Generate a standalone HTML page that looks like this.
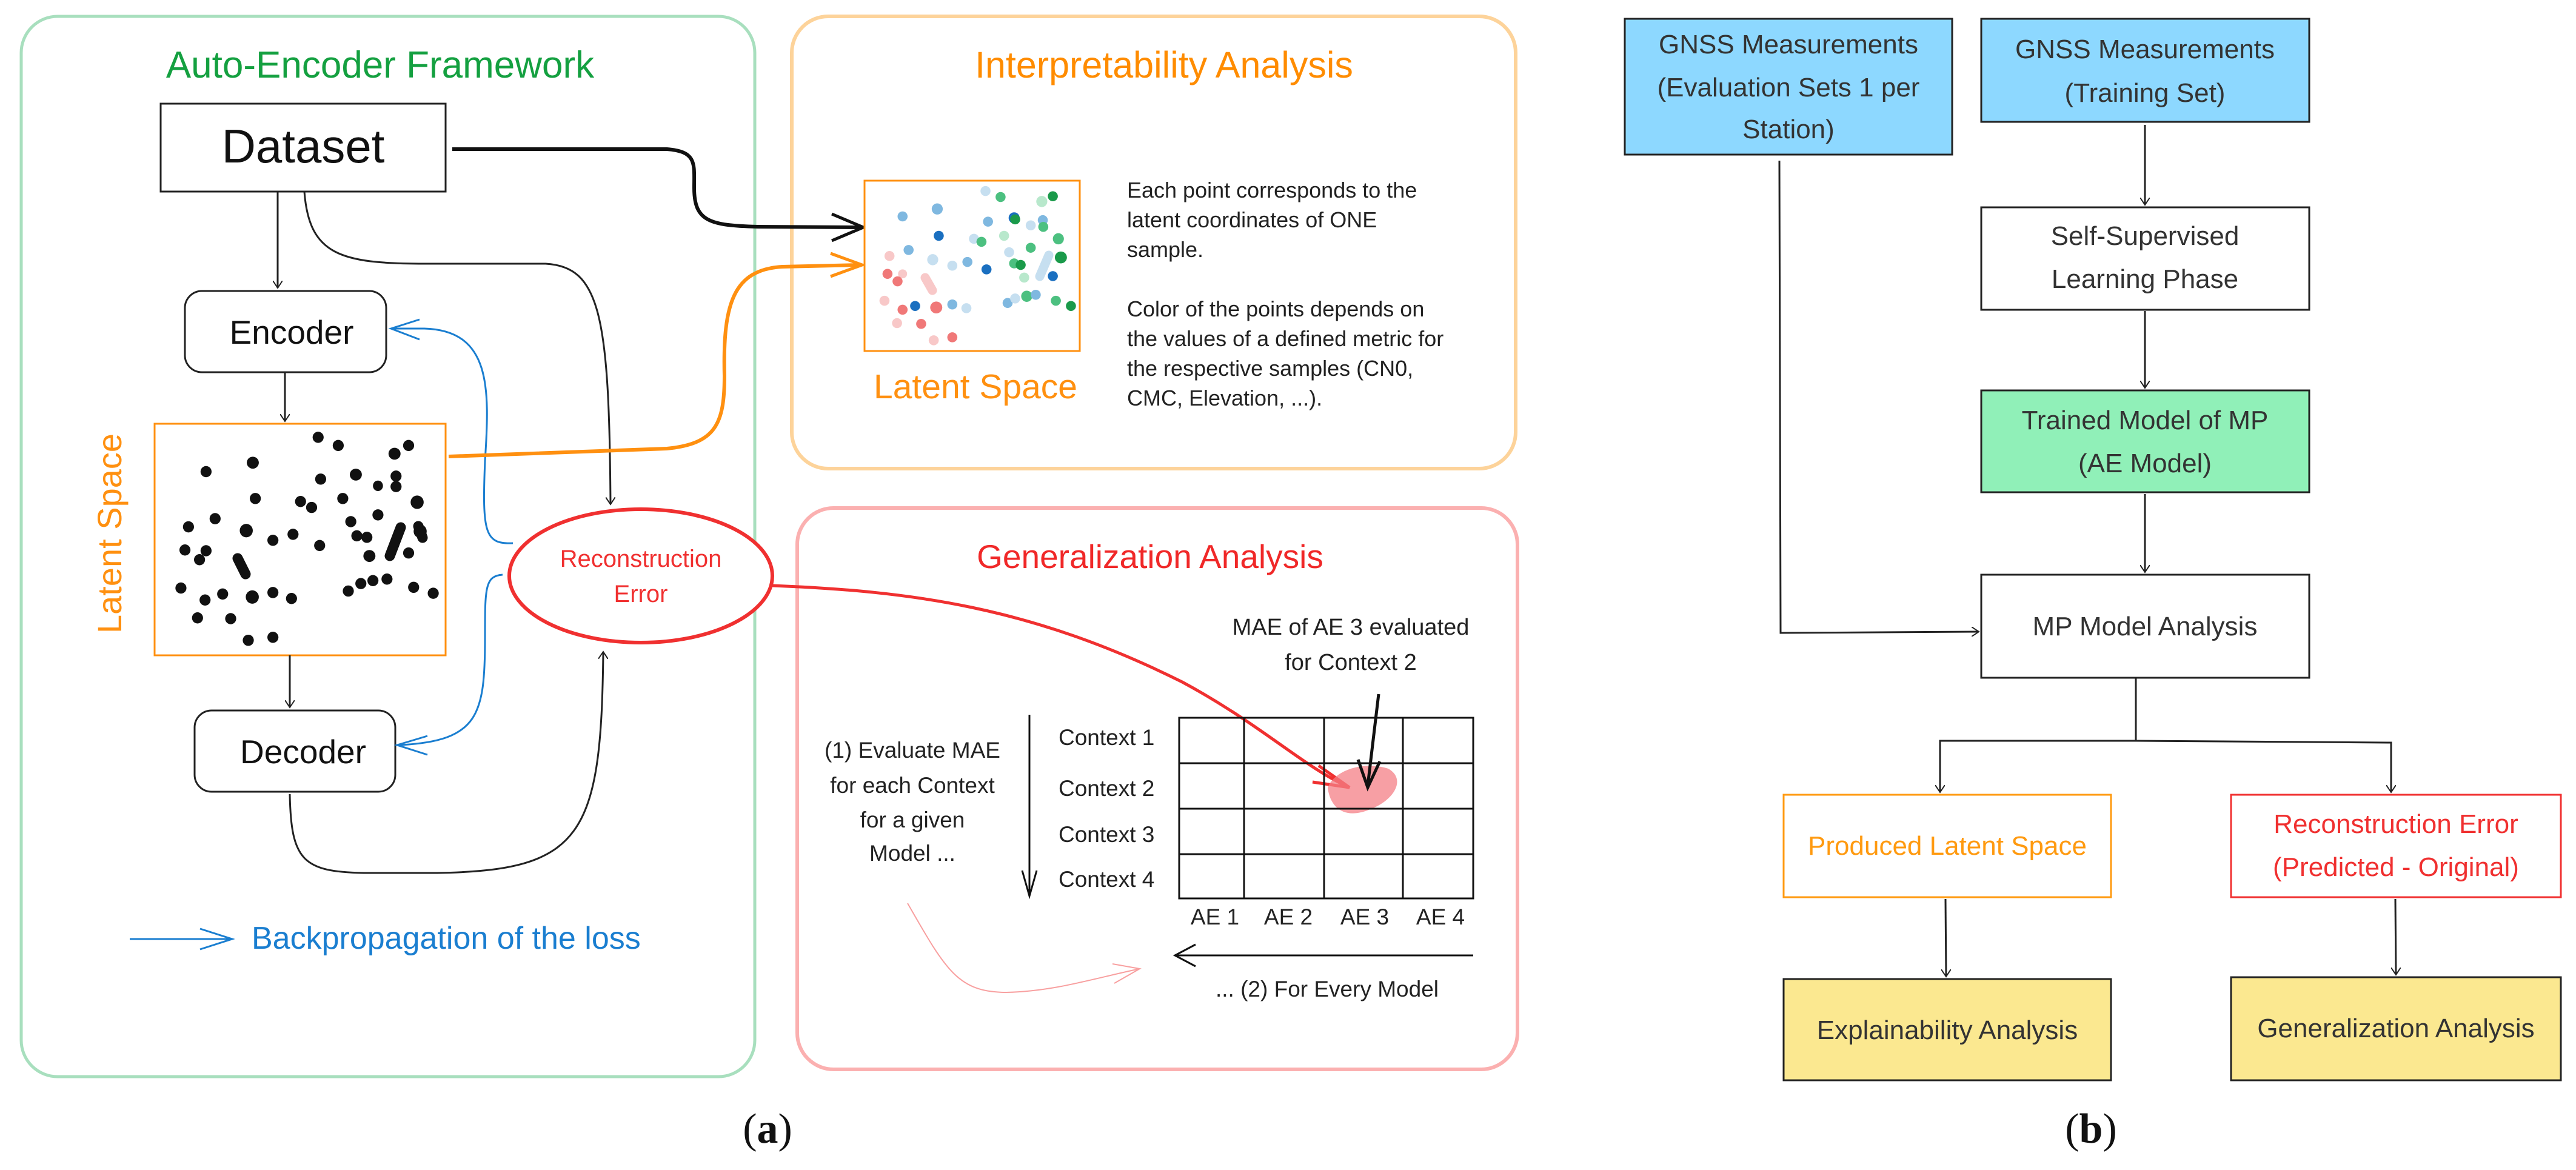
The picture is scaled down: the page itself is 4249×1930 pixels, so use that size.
<!DOCTYPE html>
<html><head><meta charset="utf-8"><style>
html,body{margin:0;padding:0;background:#fff;}
svg{display:block;}
text{font-family:"Liberation Sans",sans-serif;}
</style></head><body>
<svg width="4249" height="1930" viewBox="0 0 4249 1930" xmlns="http://www.w3.org/2000/svg">
<defs>
<marker id="ab" markerWidth="14" markerHeight="16" refX="12" refY="8" orient="auto" markerUnits="userSpaceOnUse" viewBox="0 0 14 16"><path d="M0,0 L12,8 L0,16" fill="none" stroke="#222" stroke-width="2"/></marker>
</defs>
<!-- Panel a frames -->
<rect x="35" y="27" width="1210" height="1749" rx="60" fill="none" stroke="#a8dfbe" stroke-width="5"/>
<rect x="1306" y="27" width="1194" height="746" rx="60" fill="none" stroke="#fdd39a" stroke-width="6"/>
<rect x="1315" y="838" width="1188" height="926" rx="60" fill="none" stroke="#fbb0b0" stroke-width="6"/>

<text x="627" y="128" font-size="62" fill="#14a040" text-anchor="middle">Auto-Encoder Framework</text>
<text x="1920" y="128" font-size="61" fill="#ff8c00" text-anchor="middle">Interpretability Analysis</text>
<text x="1897" y="937" font-size="55" fill="#f02828" text-anchor="middle">Generalization Analysis</text>

<!-- Dataset -->
<rect x="265" y="171" width="470" height="145" fill="#fff" stroke="#222" stroke-width="3"/>
<text x="500" y="268" font-size="78" fill="#111" text-anchor="middle">Dataset</text>
<rect x="305" y="480" width="332" height="134" rx="28" fill="#fff" stroke="#222" stroke-width="3"/>
<text x="481" y="567" font-size="55" fill="#111" text-anchor="middle">Encoder</text>
<rect x="321" y="1172" width="331" height="134" rx="28" fill="#fff" stroke="#222" stroke-width="3"/>
<text x="500" y="1259" font-size="55" fill="#111" text-anchor="middle">Decoder</text>
<rect x="255" y="699" width="480" height="382" fill="#fff" stroke="#ff9010" stroke-width="3"/>
<text transform="translate(200,880) rotate(-90)" font-size="56" fill="#ff9010" text-anchor="middle">Latent Space</text>

<g transform="scale(0.829,1.231)" fill="#111">
<ellipse rx="11" ry="7.5" cx="410" cy="632"/><ellipse rx="12" ry="8" cx="503" cy="620"/><ellipse rx="11" ry="7.5" cx="633" cy="586"/><ellipse rx="11" ry="7.5" cx="673" cy="597"/><ellipse rx="12" ry="8" cx="785" cy="608"/><ellipse rx="11" ry="7.5" cx="813" cy="597"/><ellipse rx="11" ry="7.5" cx="508" cy="668"/><ellipse rx="11" ry="7.5" cx="638" cy="642"/><ellipse rx="12" ry="8" cx="708" cy="636"/><ellipse rx="10" ry="7" cx="752" cy="651"/><ellipse rx="11" ry="7.5" cx="788" cy="638"/><ellipse rx="11" ry="7.5" cx="788" cy="652"/><ellipse rx="11" ry="7.5" cx="598" cy="672"/><ellipse rx="11" ry="7.5" cx="620" cy="680"/><ellipse rx="11" ry="7.5" cx="682" cy="668"/><ellipse rx="13" ry="9" cx="830" cy="673"/><ellipse rx="11" ry="7.5" cx="375" cy="706"/><ellipse rx="11" ry="7.5" cx="428" cy="695"/><ellipse rx="13" ry="9" cx="490" cy="711"/><ellipse rx="11" ry="7.5" cx="543" cy="724"/><ellipse rx="11" ry="7.5" cx="583" cy="716"/><ellipse rx="11" ry="7.5" cx="636" cy="731"/><ellipse rx="11" ry="7.5" cx="698" cy="699"/><ellipse rx="11" ry="7.5" cx="752" cy="690"/><ellipse rx="11" ry="7.5" cx="710" cy="718"/><ellipse rx="11" ry="7.5" cx="730" cy="720"/><ellipse rx="12" ry="8" cx="735" cy="745"/><ellipse rx="11" ry="7.5" cx="813" cy="741"/><ellipse rx="13" ry="9" cx="836" cy="712"/><ellipse rx="11" ry="7.5" cx="368" cy="737"/><ellipse rx="11" ry="7.5" cx="397" cy="750"/><ellipse rx="11" ry="7.5" cx="410" cy="738"/><ellipse rx="11" ry="7.5" cx="360" cy="788"/><ellipse rx="11" ry="7.5" cx="408" cy="804"/><ellipse rx="11" ry="7.5" cx="443" cy="796"/><ellipse rx="13" ry="9" cx="502" cy="800"/><ellipse rx="11" ry="7.5" cx="543" cy="794"/><ellipse rx="11" ry="7.5" cx="580" cy="802"/><ellipse rx="11" ry="7.5" cx="693" cy="792"/><ellipse rx="11" ry="7.5" cx="718" cy="782"/><ellipse rx="11" ry="7.5" cx="742" cy="778"/><ellipse rx="11" ry="7.5" cx="770" cy="776"/><ellipse rx="11" ry="7.5" cx="823" cy="787"/><ellipse rx="11" ry="7.5" cx="862" cy="795"/><ellipse rx="11" ry="7.5" cx="393" cy="828"/><ellipse rx="11" ry="7.5" cx="459" cy="829"/><ellipse rx="11" ry="7.5" cx="494" cy="858"/><ellipse rx="11" ry="7.5" cx="543" cy="854"/>
</g>
<path d="M392,921 L405,947 M643,917 L661,870 M690,868 L697,887" stroke="#111" stroke-width="17" stroke-linecap="round"/>

<!-- arrows in AE -->
<g stroke="#222" stroke-width="3" fill="none" marker-end="url(#ab)">
<path d="M458,316 L458,475"/>
<path d="M470,615 L470,695"/>
<path d="M478,1081 L478,1167"/>
<path d="M502,316 C510,420 560,435 700,435 L900,435 C990,440 1005,520 1007,832"/>
<path d="M478,1310 C480,1420 500,1438 600,1440 L721,1440 C960,1436 992,1380 995,1075"/>
</g>
<ellipse cx="1057" cy="950" rx="217" ry="110" fill="#fff" stroke="#f03030" stroke-width="6"/>
<text x="1057" y="935" font-size="40" fill="#f03030" text-anchor="middle">Reconstruction</text>
<text x="1057" y="993" font-size="40" fill="#f03030" text-anchor="middle">Error</text>
<g stroke="#1a7ed0" stroke-width="3" fill="none">
<path d="M846,896 C800,898 795,880 800,760 C808,640 810,545 700,542 L645,542"/>
<path d="M692,527 L645,542 L692,560"/>
<path d="M829,948 C800,950 800,970 800,1050 C800,1180 790,1222 660,1229"/>
<path d="M705,1214 L655,1229 L705,1245"/>
<path d="M214,1549 L383,1549 M330,1532 L383,1549 L330,1566"/>
</g>
<text x="415" y="1565" font-size="52" fill="#1a7ed0">Backpropagation of the loss</text>

<!-- connectors to right panels -->
<path d="M746,246 L1100,246 C1150,250 1145,270 1145,310 C1145,365 1170,372 1250,374 L1420,375" stroke="#111" stroke-width="6" fill="none"/>
<path d="M1372,353 L1424,375 L1372,397" stroke="#111" stroke-width="5" fill="none"/>
<path d="M740,753 L1100,740 C1180,732 1195,700 1195,620 C1192,500 1210,445 1290,440 L1420,437" stroke="#ff9010" stroke-width="6" fill="none"/>
<path d="M1370,418 L1422,437 L1370,456" stroke="#ff9010" stroke-width="5" fill="none"/>
<path d="M1274,966 C1500,975 1700,1000 1950,1125 C2080,1195 2150,1265 2224,1298" stroke="#f03030" stroke-width="5" fill="none"/>
<path d="M2165,1290 L2226,1299 L2175,1263" stroke="#f03030" stroke-width="5" fill="none"/>

<!-- Interpretability content -->
<rect x="1426" y="298" width="355" height="281" fill="#fff" stroke="#ff9010" stroke-width="3"/>
<g transform="translate(1250,0) scale(0.829,1.231)">
<ellipse rx="10" ry="6.7" cx="288" cy="290" fill="#7fb8e0"/><ellipse rx="11" ry="7.5" cx="357" cy="280" fill="#7fb8e0"/><ellipse rx="10" ry="6.7" cx="453" cy="256" fill="#c6dff0"/><ellipse rx="10" ry="6.7" cx="483" cy="264" fill="#4cc080"/><ellipse rx="11" ry="7.5" cx="510" cy="292" fill="#1a6fc0"/><ellipse rx="10" ry="6.7" cx="512" cy="294" fill="#1a9a4a"/><ellipse rx="11" ry="7.5" cx="565" cy="270" fill="#b8e8cc"/><ellipse rx="10" ry="6.7" cx="587" cy="263" fill="#1a9a4a"/><ellipse rx="10" ry="6.7" cx="458" cy="297" fill="#7fb8e0"/><ellipse rx="10" ry="6.7" cx="543" cy="302" fill="#c6dff0"/><ellipse rx="10" ry="6.7" cx="567" cy="295" fill="#7fb8e0"/><ellipse rx="10" ry="6.7" cx="568" cy="304" fill="#4cc080"/><ellipse rx="10" ry="6.7" cx="300" cy="335" fill="#7fb8e0"/><ellipse rx="10" ry="6.7" cx="360" cy="316" fill="#1a6fc0"/><ellipse rx="10" ry="6.7" cx="430" cy="320" fill="#c6dff0"/><ellipse rx="10" ry="6.7" cx="445" cy="324" fill="#4cc080"/><ellipse rx="10" ry="6.7" cx="490" cy="316" fill="#b8e8cc"/><ellipse rx="10" ry="6.7" cx="500" cy="338" fill="#c6dff0"/><ellipse rx="10" ry="6.7" cx="543" cy="332" fill="#4cc080"/><ellipse rx="11" ry="7.5" cx="598" cy="320" fill="#4cc080"/><ellipse rx="12" ry="8" cx="603" cy="345" fill="#1a9a4a"/><ellipse rx="11" ry="7.5" cx="348" cy="348" fill="#c6dff0"/><ellipse rx="10" ry="6.7" cx="387" cy="356" fill="#c6dff0"/><ellipse rx="10" ry="6.7" cx="417" cy="351" fill="#7fb8e0"/><ellipse rx="10" ry="6.7" cx="455" cy="361" fill="#1a6fc0"/><ellipse rx="10" ry="6.7" cx="510" cy="353" fill="#4cc080"/><ellipse rx="10" ry="6.7" cx="523" cy="355" fill="#1a9a4a"/><ellipse rx="10" ry="6.7" cx="530" cy="372" fill="#b8e8cc"/><ellipse rx="10" ry="6.7" cx="587" cy="370" fill="#1a6fc0"/><ellipse rx="10" ry="6.7" cx="262" cy="343" fill="#f8c8c8"/><ellipse rx="9" ry="6" cx="288" cy="367" fill="#f8c8c8"/><ellipse rx="10" ry="6.7" cx="258" cy="367" fill="#f07878"/><ellipse rx="10" ry="6.7" cx="278" cy="377" fill="#f07878"/><ellipse rx="10" ry="6.7" cx="252" cy="403" fill="#f8c8c8"/><ellipse rx="10" ry="6.7" cx="288" cy="415" fill="#f07878"/><ellipse rx="10" ry="6.7" cx="313" cy="410" fill="#1a6fc0"/><ellipse rx="12" ry="8" cx="355" cy="412" fill="#f07878"/><ellipse rx="10" ry="6.7" cx="387" cy="408" fill="#7fb8e0"/><ellipse rx="10" ry="6.7" cx="415" cy="413" fill="#c6dff0"/><ellipse rx="10" ry="6.7" cx="497" cy="406" fill="#7fb8e0"/><ellipse rx="10" ry="6.7" cx="512" cy="400" fill="#c6dff0"/><ellipse rx="11" ry="7.5" cx="535" cy="397" fill="#4cc080"/><ellipse rx="10" ry="6.7" cx="553" cy="395" fill="#7fb8e0"/><ellipse rx="10" ry="6.7" cx="593" cy="403" fill="#4cc080"/><ellipse rx="10" ry="6.7" cx="623" cy="410" fill="#1a9a4a"/><ellipse rx="10" ry="6.7" cx="277" cy="433" fill="#f8c8c8"/><ellipse rx="10" ry="6.7" cx="325" cy="434" fill="#f07878"/><ellipse rx="10" ry="6.7" cx="350" cy="456" fill="#f8c8c8"/><ellipse rx="10" ry="6.7" cx="387" cy="452" fill="#f07878"/>
</g>
<path d="M1715,456 L1730,421" stroke="#c6dff0" stroke-width="15" stroke-linecap="round"/>
<path d="M1526,458 L1538,479" stroke="#f8c8c8" stroke-width="15" stroke-linecap="round"/>
<text x="1609" y="657" font-size="57" fill="#ff9010" text-anchor="middle">Latent Space</text>
<g font-size="36" fill="#222">
<text x="1859" y="326">Each point corresponds to the</text>
<text x="1859" y="375">latent coordinates of ONE</text>
<text x="1859" y="424">sample.</text>
<text x="1859" y="522">Color of the points depends on</text>
<text x="1859" y="571">the values of a defined metric for</text>
<text x="1859" y="620">the respective samples (CN0,</text>
<text x="1859" y="669">CMC, Elevation, ...).</text>
</g>

<!-- Generalization content -->
<text x="2228" y="1047" font-size="38" fill="#222" text-anchor="middle">MAE of AE 3 evaluated</text>
<text x="2228" y="1105" font-size="38" fill="#222" text-anchor="middle">for Context 2</text>
<g font-size="37" fill="#222" text-anchor="middle">
<text x="1505" y="1250">(1) Evaluate MAE</text>
<text x="1505" y="1308">for each Context</text>
<text x="1505" y="1365">for a given</text>
<text x="1505" y="1420">Model ...</text>
</g>
<g font-size="37" fill="#222">
<text x="1746" y="1229">Context 1</text>
<text x="1746" y="1313">Context 2</text>
<text x="1746" y="1389">Context 3</text>
<text x="1746" y="1463">Context 4</text>
</g>
<g font-size="37" fill="#222" text-anchor="middle">
<text x="2004" y="1525">AE 1</text><text x="2125" y="1525">AE 2</text><text x="2251" y="1525">AE 3</text><text x="2376" y="1525">AE 4</text>
<text x="2189" y="1644">... (2) For Every Model</text>
</g>
<path d="M2190,1300 C2200,1270 2250,1255 2290,1268 C2320,1285 2300,1320 2260,1335 C2220,1352 2195,1335 2190,1300 Z" fill="#f47f85" opacity="0.75"/>
<g stroke="#111" stroke-width="3" fill="none">
<rect x="1945" y="1184" width="485" height="298"/>
<path d="M2052,1184 V1482 M2184,1184 V1482 M2314,1184 V1482 M1945,1259 H2430 M1945,1334 H2430 M1945,1409 H2430"/>
<path d="M1698,1179 L1698,1477 M1686,1436 L1698,1478 L1710,1436"/>
<path d="M2430,1576 L1940,1576 M1972,1558 L1938,1576 L1972,1594"/>
</g>
<path d="M2274,1145 L2256,1296 M2240,1253 L2256,1299 L2276,1256" stroke="#111" stroke-width="5" fill="none"/>
<path d="M1497,1490 C1560,1600 1580,1637 1660,1637 C1740,1635 1800,1615 1880,1598 M1835,1590 L1880,1598 L1838,1622" stroke="#f8a0a0" stroke-width="2" fill="none"/>

<text x="1266" y="1885" font-size="70" fill="#111" text-anchor="middle" style="font-family:'Liberation Serif',serif">(<tspan font-weight="bold">a</tspan>)</text>

<!-- Panel b -->
<g stroke="#222" stroke-width="3">
<rect x="2680" y="31" width="540" height="224" fill="#8dd8ff"/>
<rect x="3268" y="31" width="541" height="170" fill="#8dd8ff"/>
<rect x="3268" y="342" width="541" height="169" fill="#fff"/>
<rect x="3268" y="644" width="541" height="168" fill="#90f0b8"/>
<rect x="3268" y="948" width="541" height="170" fill="#fff"/>
<rect x="2942" y="1311" width="540" height="169" fill="#fff" stroke="#ff9a10"/>
<rect x="3680" y="1311" width="544" height="169" fill="#fff" stroke="#f03030"/>
<rect x="2942" y="1615" width="540" height="167" fill="#fbe890"/>
<rect x="3680" y="1612" width="544" height="170" fill="#fbe890"/>
</g>
<g stroke="#222" stroke-width="3" fill="none" marker-end="url(#ab)">
<path d="M3538,206 L3538,338"/>
<path d="M3538,513 L3538,640"/>
<path d="M3538,815 L3538,944"/>
<path d="M2935,265 L2937,1044 L3264,1042"/>
<path d="M3523,1118 L3523,1222 L3200,1222 L3200,1307"/>
<path d="M3523,1222 L3944,1225 L3944,1307"/>
<path d="M3209,1483 L3210,1611"/>
<path d="M3951,1483 L3952,1608"/>
</g>
<g font-size="44" fill="#333" text-anchor="middle">
<text x="2950" y="88">GNSS Measurements</text>
<text x="2950" y="159">(Evaluation Sets 1 per</text>
<text x="2950" y="228">Station)</text>
<text x="3538" y="96">GNSS Measurements</text>
<text x="3538" y="168">(Training Set)</text>
<text x="3538" y="404">Self-Supervised</text>
<text x="3538" y="475">Learning Phase</text>
<text x="3538" y="708">Trained Model of MP</text>
<text x="3538" y="779">(AE Model)</text>
<text x="3538" y="1048">MP Model Analysis</text>
<text x="3212" y="1410" fill="#ff9a10">Produced Latent Space</text>
<text x="3952" y="1374" fill="#f03030">Reconstruction Error</text>
<text x="3952" y="1445" fill="#f03030">(Predicted - Original)</text>
<text x="3212" y="1714">Explainability Analysis</text>
<text x="3952" y="1711">Generalization Analysis</text>
</g>
<text x="3449" y="1885" font-size="70" fill="#111" text-anchor="middle" style="font-family:'Liberation Serif',serif">(<tspan font-weight="bold">b</tspan>)</text>
</svg>
</body></html>
